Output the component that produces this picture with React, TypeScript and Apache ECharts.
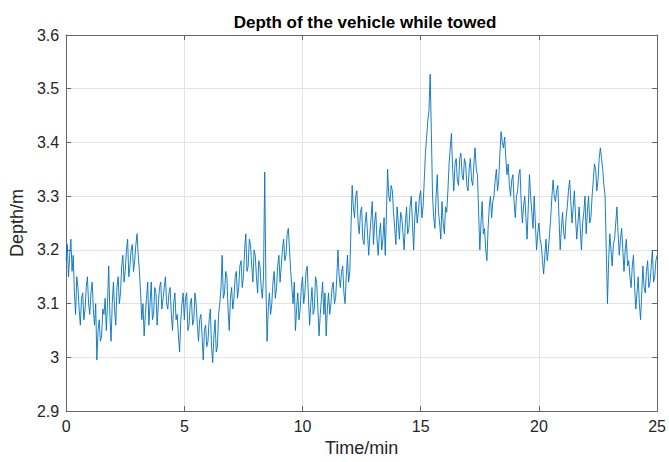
import React, { useEffect, useRef } from "react";
import * as echarts from "echarts";

// Sampling step of the record (minutes)
const STEP_MIN = 0.05;

// Depth readings (m), 20 samples per minute
const depth00to04: number[] = [
  3.18, 3.21, 3.15, 3.19, 3.22, 3.16, 3.19, 3.12, 3.08, 3.15, 3.13, 3.09, 3.06, 3.11, 3.12, 3.07, 3.09, 3.13, 3.15, 3.1,
  3.08, 3.12, 3.14, 3.09, 3.06, 3.1, 2.995, 3.05, 3.07, 3.03, 3.04, 3.09, 3.08, 3.11, 3.05, 3.1, 3.17, 3.08, 3.03, 3.1,
  3.14, 3.09, 3.06, 3.13, 3.15, 3.1, 3.12, 3.17, 3.19, 3.14, 3.16, 3.2, 3.22, 3.15, 3.17, 3.2, 3.21, 3.16, 3.18, 3.21,
  3.23, 3.19, 3.16, 3.12, 3.07, 3.1, 3.04, 3.08, 3.11, 3.14, 3.06, 3.1, 3.14, 3.07, 3.08, 3.13, 3.12, 3.06, 3.1, 3.13,
  3.14, 3.09, 3.11, 3.13, 3.15, 3.1, 3.09, 3.12, 3.13, 3.08, 3.05, 3.1, 3.12, 3.07, 3.08, 3.04, 3.01, 3.07, 3.1, 3.12,
];
const depth05to09: number[] = [
  3.07, 3.11, 3.12, 3.05, 3.06, 3.1, 3.11, 3.06, 3.07, 3.12, 3.1, 3.06, 3.03, 3.07, 3.08, 3.04, 2.995, 3.05, 3.06, 3.02,
  3.03, 3.07, 3.09, 3.02, 2.99, 3.04, 3.07, 3.01, 3.02, 3.08, 3.1, 3.13, 3.19, 3.11, 3.12, 3.16, 3.15, 3.09, 3.05, 3.11,
  3.13, 3.09, 3.11, 3.15, 3.16, 3.11, 3.13, 3.17, 3.18, 3.13, 3.15, 3.2, 3.23, 3.16, 3.17, 3.22, 3.21, 3.17, 3.14, 3.2,
  3.19, 3.15, 3.12, 3.18, 3.17, 3.13, 3.11, 3.15, 3.345, 3.14, 3.03, 3.09, 3.12, 3.08, 3.1, 3.14, 3.16, 3.11, 3.13, 3.17,
  3.19, 3.14, 3.17, 3.2, 3.22, 3.18, 3.19, 3.23, 3.24, 3.2, 3.16, 3.13, 3.1, 3.14, 3.05, 3.09, 3.12, 3.07, 3.09, 3.13,
];
const depth10to14: number[] = [
  3.15, 3.1, 3.12, 3.16, 3.17, 3.11, 3.06, 3.1, 3.13, 3.08, 3.09, 3.15, 3.14, 3.09, 3.04, 3.08, 3.11, 3.14, 3.08, 3.12,
  3.04, 3.09, 3.12, 3.08, 3.1, 3.13, 3.14, 3.1, 3.11, 3.15, 3.2, 3.15, 3.13, 3.16, 3.17, 3.12, 3.1, 3.15, 3.19, 3.14,
  3.16, 3.24, 3.32, 3.28, 3.26, 3.3, 3.31, 3.25, 3.23, 3.27, 3.28, 3.22, 3.21, 3.25, 3.27, 3.23, 3.19, 3.23, 3.26, 3.29,
  3.21, 3.25, 3.27, 3.22, 3.19, 3.23, 3.25, 3.2, 3.22, 3.26, 3.19, 3.27, 3.35, 3.3, 3.29, 3.32, 3.31, 3.27, 3.24, 3.21,
  3.28, 3.25, 3.22, 3.27, 3.26, 3.23, 3.2, 3.25, 3.28, 3.23, 3.24, 3.28, 3.3, 3.25, 3.2, 3.26, 3.29, 3.25, 3.27, 3.3,
];
const depth15to19: number[] = [
  3.31, 3.26, 3.28, 3.33, 3.38, 3.41, 3.44, 3.46, 3.527, 3.42, 3.3, 3.26, 3.24, 3.3, 3.34, 3.27, 3.25, 3.22, 3.29, 3.25,
  3.23, 3.28, 3.27, 3.31, 3.36, 3.39, 3.417, 3.35, 3.31, 3.36, 3.37, 3.33, 3.32, 3.37, 3.38, 3.34, 3.33, 3.37, 3.36, 3.32,
  3.31, 3.35, 3.37, 3.33, 3.32, 3.36, 3.39, 3.35, 3.34, 3.27, 3.2, 3.25, 3.29, 3.23, 3.24, 3.2, 3.18, 3.24, 3.28, 3.3,
  3.26, 3.29, 3.3, 3.33, 3.35, 3.31, 3.33, 3.38, 3.42, 3.4, 3.39, 3.41, 3.37, 3.34, 3.36, 3.32, 3.3, 3.33, 3.34, 3.29,
  3.26, 3.3, 3.31, 3.34, 3.35, 3.29, 3.25, 3.28, 3.3, 3.26, 3.22, 3.28, 3.34, 3.3, 3.27, 3.24, 3.3, 3.25, 3.2, 3.23,
];
const depth20to25: number[] = [
  3.25, 3.22, 3.21, 3.18, 3.155, 3.19, 3.22, 3.18, 3.2, 3.23, 3.26, 3.3, 3.33, 3.3, 3.29, 3.31, 3.32, 3.26, 3.2, 3.24,
  3.27, 3.23, 3.22, 3.26, 3.28, 3.31, 3.33, 3.29, 3.25, 3.28, 3.31, 3.26, 3.22, 3.25, 3.28, 3.24, 3.2, 3.25, 3.27, 3.3,
  3.23, 3.27, 3.3, 3.25, 3.26, 3.3, 3.33, 3.36, 3.35, 3.31, 3.33, 3.37, 3.39, 3.37, 3.35, 3.32, 3.3, 3.2, 3.1, 3.18,
  3.23, 3.2, 3.17, 3.21, 3.22, 3.25, 3.28, 3.23, 3.19, 3.22, 3.24, 3.2, 3.16, 3.2, 3.22, 3.17, 3.18, 3.15, 3.13, 3.17,
  3.19, 3.13, 3.09, 3.12, 3.15, 3.1, 3.07, 3.12, 3.17, 3.13, 3.12, 3.16, 3.18, 3.13, 3.14, 3.17, 3.2, 3.14, 3.15, 3.18,
  3.19,
];

const depthValues: number[] = [
  ...depth00to04,
  ...depth05to09,
  ...depth10to14,
  ...depth15to19,
  ...depth20to25,
];

const TITLE = "Depth of the vehicle while towed";
const X_NAME = "Time/min";
const Y_NAME = "Depth/m";

export default function App() {
  const ref = useRef<HTMLDivElement>(null);
  useEffect(() => {
    document.body.style.margin = "0";
    if (!ref.current) return;
    const chart = echarts.init(ref.current, undefined, { renderer: "svg" });
    const data = depthValues.map((v, i) => [+(i * STEP_MIN).toFixed(2), v]);
    const font = "'Liberation Sans', Arial, Helvetica, sans-serif";
    const axisColor = "#666666";
    const gridColor = "#e3e3e3";
    chart.setOption({
      animation: false,
      backgroundColor: "#ffffff",
      textStyle: { fontFamily: font },
      title: {
        text: TITLE,
        left: 360,
        top: 9,
        textAlign: "center",
        textStyle: { fontFamily: font, fontSize: 17, fontWeight: "bold", color: "#000" },
      },
      grid: { left: 61, right: 10, top: 35, bottom: 47, containLabel: false },
      xAxis: [
        {
          type: "value",
          min: 0,
          max: 25,
          interval: 5,
          name: X_NAME,
          nameLocation: "middle",
          nameGap: 27,
          nameTextStyle: { fontFamily: font, fontSize: 18, color: "#262626" },
          axisLine: { show: true, onZero: false, lineStyle: { color: axisColor, width: 1 } },
          axisTick: { show: true, inside: true, length: 5, lineStyle: { color: axisColor } },
          axisLabel: { fontFamily: font, fontSize: 16, color: "#262626", margin: 7 },
          splitLine: { show: true, lineStyle: { color: gridColor, width: 1 } },
        },
        {
          type: "value",
          position: "top",
          min: 0,
          max: 25,
          interval: 5,
          axisLine: { show: true, onZero: false, lineStyle: { color: axisColor, width: 1 } },
          axisTick: { show: true, inside: true, length: 5, lineStyle: { color: axisColor } },
          axisLabel: { show: false },
          splitLine: { show: false },
        },
      ],
      yAxis: [
        {
          type: "value",
          min: 2.9,
          max: 3.6,
          interval: 0.1,
          name: Y_NAME,
          nameLocation: "middle",
          nameGap: 31,
          nameTextStyle: { fontFamily: font, fontSize: 18, color: "#262626" },
          axisLine: { show: true, onZero: false, lineStyle: { color: axisColor, width: 1 } },
          axisTick: { show: true, inside: true, length: 5, lineStyle: { color: axisColor } },
          axisLabel: {
            fontFamily: font,
            fontSize: 16,
            color: "#262626",
            margin: 7,
            formatter: (v: number) => String(+v.toFixed(1)),
          },
          splitLine: { show: true, lineStyle: { color: gridColor, width: 1 } },
        },
        {
          type: "value",
          position: "right",
          min: 2.9,
          max: 3.6,
          interval: 0.1,
          axisLine: { show: true, onZero: false, lineStyle: { color: axisColor, width: 1 } },
          axisTick: { show: true, inside: true, length: 5, lineStyle: { color: axisColor } },
          axisLabel: { show: false },
          splitLine: { show: false },
        },
      ],
      series: [
        {
          type: "line",
          xAxisIndex: 0,
          yAxisIndex: 0,
          data,
          showSymbol: false,
          symbol: "none",
          lineStyle: { color: "#0072BD", width: 0.9 },
        },
      ],
    });
    return () => chart.dispose();
  }, []);
  return (
    <div
      ref={ref}
      style={{ position: "absolute", left: 0, top: 0, width: 669, height: 462 }}
    />
  );
}
